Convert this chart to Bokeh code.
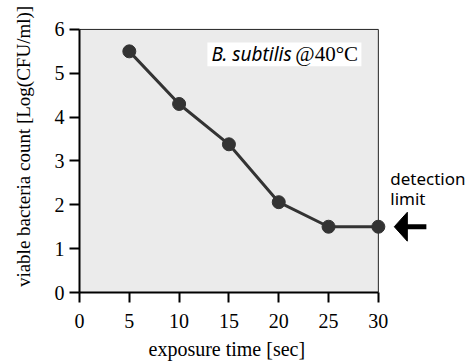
from bokeh.plotting import figure
from bokeh.models import Range1d, Label, FixedTicker, BoxAnnotation, Title
from bokeh.embed import file_html
from bokeh.resources import INLINE

# data
exposure_time = [5, 10, 15, 20, 25, 30]
log_cfu = [5.5, 4.3, 3.38, 2.06, 1.5, 1.5]
x_ticks = [0, 5, 10, 15, 20, 25, 30]
y_ticks = [0, 1, 2, 3, 4, 5, 6]
detection_limit = 1.5
x_label = "exposure time [sec]"
y_label = "viable bacteria count [Log(CFU/ml)]"

SERIF = "Liberation Serif"
SANS = "Noto Sans"

p = figure(width=470, height=364, output_backend="svg", toolbar_location=None,
           x_range=Range1d(0, 39.25), y_range=Range1d(0, 6.66),
           min_border_left=79, min_border_right=0, min_border_top=0, min_border_bottom=71)
p.outline_line_color = None
p.background_fill_color = "white"
p.border_fill_color = "white"
p.xgrid.visible = False
p.ygrid.visible = False

# gray plotting area with thin border
p.quad(left=[x_ticks[0]], right=[x_ticks[-1]], bottom=[y_ticks[0]], top=[y_ticks[-1]],
       fill_color="#ebebeb", line_color="#222222", line_width=1)

p.line(exposure_time, log_cfu, line_color="#333333", line_width=3)
p.scatter(exposure_time, log_cfu, size=13, fill_color="#333333", line_color="#333333")

for ax, ticks, bounds in ((p.xaxis, x_ticks, (0, 30)), (p.yaxis, y_ticks, (0, 6))):
    ax.ticker = FixedTicker(ticks=ticks)
    ax.bounds = bounds
    ax.axis_line_width = 2
    ax.axis_line_color = "black"
    ax.major_tick_line_width = 2
    ax.major_tick_line_color = "black"
    ax.major_tick_out = 10
    ax.major_tick_in = 0
    ax.minor_tick_line_color = None
    ax.major_label_text_font = SERIF
    ax.major_label_text_font_size = "20px"
    ax.major_label_text_color = "black"
    ax.axis_label_text_font = SERIF
    ax.axis_label_text_font_style = "normal"
    ax.axis_label_text_color = "black"

p.yaxis.axis_label = y_label
p.yaxis.axis_label_text_font_size = "19px"
p.xaxis.major_label_standoff = 11
p.yaxis.major_label_standoff = 5
p.yaxis.axis_label_standoff = 18

# x-axis title centred under the 0-30 axis (side panel title, offset from frame left)
p.add_layout(Title(text=x_label, text_font=SERIF, text_font_size="20px",
                   text_font_style="normal", text_color="black",
                   align="left", offset=69, standoff=10), "below")

# title annotation (white box)
p.add_layout(BoxAnnotation(left=12.84, right=28.3, bottom=5.16, top=5.70,
                           fill_color="white", fill_alpha=1, line_color=None))
p.add_layout(Label(x=13.24, y=5.43, text="B. subtilis", text_font=SANS, text_font_style="italic",
                   text_font_size="19px", text_baseline="middle", text_color="black"))
p.add_layout(Label(x=21.67, y=5.43, text="@40°C", text_font=SERIF,
                   text_font_size="21px", text_baseline="middle", text_color="black"))

# detection limit note
p.add_layout(Label(x=31.2, y=2.6, text="detection", text_font=SANS, text_font_size="17px",
                   text_baseline="middle", text_color="black"))
p.add_layout(Label(x=31.2, y=2.15, text="limit", text_font=SANS, text_font_size="17px",
                   text_baseline="middle", text_color="black"))
# arrow: shaft + triangular head
p.segment(x0=[32.8], y0=[detection_limit], x1=[34.82], y1=[detection_limit],
          line_width=5, line_color="black")
p.patch(x=[31.6, 32.91, 32.91], y=[detection_limit, detection_limit + 0.33, detection_limit - 0.33],
        fill_color="black", line_color="black")

open("out.html", "w").write(file_html(p, INLINE))
